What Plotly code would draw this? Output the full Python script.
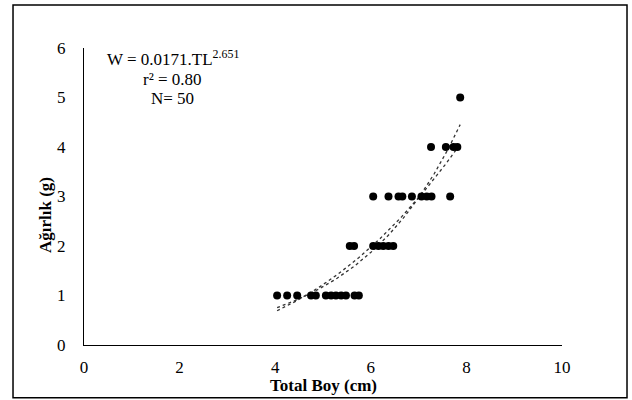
import numpy as np
import plotly.graph_objects as go

total_length = [4.04, 4.25, 4.46, 4.75, 4.85, 5.06, 5.17, 5.27, 5.38, 5.48, 5.66, 5.75,
                5.56, 5.65, 6.05, 6.16, 6.26, 6.37, 6.47,
                6.05, 6.37, 6.58, 6.66, 6.86, 7.06, 7.17, 7.27, 7.66,
                7.26, 7.57, 7.73, 7.81,
                7.87]
weight = [1] * 12 + [2] * 7 + [3] * 9 + [4] * 4 + [5]

# Trendline parameters
power_a, power_b = 0.0171, 2.651
exp_a, exp_b = 0.1157, 0.4638

x_ticks = [0, 2, 4, 6, 8, 10]
y_ticks = [0, 1, 2, 3, 4, 5, 6]

FONT = "Liberation Serif"

xs = np.linspace(min(total_length), max(total_length), 120)
power_fit = power_a * xs ** power_b
exp_fit = exp_a * np.exp(exp_b * xs)

fig = go.Figure()
fig.add_trace(go.Scatter(x=xs, y=exp_fit, mode="lines",
                         line=dict(color="#333333", width=1.3, dash="dot"),
                         hoverinfo="skip", showlegend=False))
fig.add_trace(go.Scatter(x=xs, y=power_fit, mode="lines",
                         line=dict(color="#333333", width=1.3, dash="dot"),
                         hoverinfo="skip", showlegend=False))
fig.add_trace(go.Scatter(x=total_length, y=weight, mode="markers",
                         marker=dict(color="black", size=8, line=dict(width=0)),
                         showlegend=False))

tf = dict(family=FONT, size=17, color="black")

fig.update_layout(
    width=632, height=400,
    margin=dict(l=84, r=70, t=48, b=55),
    paper_bgcolor="white", plot_bgcolor="white",
    font=dict(family=FONT, size=16, color="black"),
    showlegend=False,
    xaxis=dict(range=[0, 10], tickvals=x_ticks, showline=True, linecolor="black",
               linewidth=1, showgrid=False, zeroline=False, ticks="",
               ticklabelstandoff=7, tickfont=tf),
    yaxis=dict(range=[0, 6], tickvals=y_ticks, showline=True, linecolor="black",
               linewidth=1, showgrid=False, zeroline=False, ticks="",
               ticklabelstandoff=14, tickfont=tf),
    shapes=[dict(type="rect", xref="paper", yref="paper",
                 x0=-0.1485, x1=1.136, y0=-0.178, y1=1.145,
                 line=dict(color="black", width=1.5), fillcolor="rgba(0,0,0,0)")],
    annotations=[
        dict(text="<b>Total Boy (cm)</b>", xref="paper", yref="paper",
             x=0.5, y=(345 - 385) / 297, showarrow=False,
             font=dict(family=FONT, size=17),
             xanchor="center", yanchor="middle"),
        dict(text="<b>Ağırlık (g)</b>", xref="paper", yref="paper",
             x=(45 - 84) / 478, y=(345 - 215) / 297, showarrow=False,
             textangle=-90, font=dict(family=FONT, size=17),
             xanchor="center", yanchor="middle"),
        dict(text="W = 0.0171.TL<sup>2.651</sup>", xref="paper", yref="paper",
             x=0.186, y=0.968, showarrow=False, font=dict(family=FONT, size=17),
             xanchor="center", yanchor="middle"),
        dict(text="r² = 0.80", xref="paper", yref="paper",
             x=0.186, y=0.895, showarrow=False, font=dict(family=FONT, size=17),
             xanchor="center", yanchor="middle"),
        dict(text="N= 50", xref="paper", yref="paper",
             x=0.186, y=0.830, showarrow=False, font=dict(family=FONT, size=17),
             xanchor="center", yanchor="middle"),
    ],
)

fig.write_html("out.html", config={"displayModeBar": False})

# remove the browser's default page margin so the figure sits at the window origin
with open("out.html", "r", encoding="utf-8") as f:
    html = f.read()
html = html.replace("<head>", "<head><style>html,body{margin:0;padding:0;overflow:hidden;}</style>", 1)
with open("out.html", "w", encoding="utf-8") as f:
    f.write(html)
